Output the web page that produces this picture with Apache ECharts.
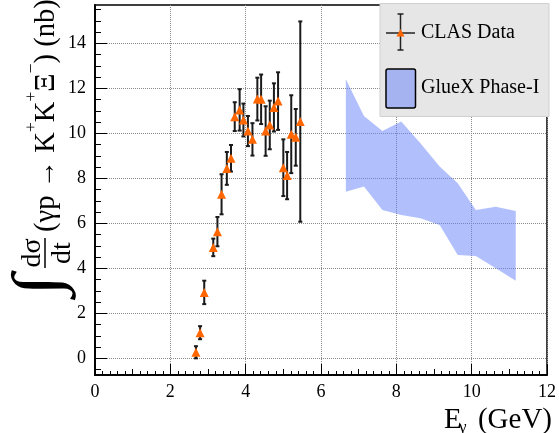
<!DOCTYPE html>
<html><head><meta charset="utf-8">
<script src="https://cdn.jsdelivr.net/npm/echarts@6/dist/echarts.min.js"></script>
<style>html,body{margin:0;padding:0;background:#fff}#c{width:559px;height:433px}</style>
</head><body><div id="c"></div>
<script>
// ---- data ----
const clasE   = [2.68, 2.79, 2.90, 3.14, 3.25, 3.36, 3.50, 3.61, 3.71, 3.84, 3.94, 4.06, 4.18, 4.31, 4.41, 4.53, 4.64, 4.75, 4.86, 5.00, 5.10, 5.21, 5.33, 5.45];
const clasVal = [0.27, 1.14, 2.93, 4.93, 5.63, 7.29, 8.44, 8.89, 10.74, 11.04, 10.59, 10.10, 9.73, 11.52, 11.51, 10.10, 10.37, 11.15, 11.43, 8.47, 8.12, 9.96, 9.82, 10.52];
const clasErr = [0.27, 0.29, 0.52, 0.39, 0.65, 0.89, 0.73, 0.59, 0.64, 0.92, 0.73, 0.67, 0.72, 0.95, 1.10, 1.10, 1.08, 1.07, 1.28, 1.26, 1.05, 1.73, 1.26, 4.45];
const bandE     = [6.66, 7.14, 7.63, 8.13, 8.64, 9.15, 9.63, 10.11, 10.64, 11.17];
const bandUpper = [12.40, 10.77, 10.10, 10.52, 9.56, 8.52, 7.78, 6.59, 6.74, 6.55];
const bandLower = [7.40, 7.63, 6.59, 6.37, 6.22, 5.92, 4.59, 4.55, 4.00, 3.45];
const xTickLabels = [0, 2, 4, 6, 8, 10, 12];
const yTickLabels = [0, 2, 4, 6, 8, 10, 12, 14];
const yMinorTicks = [-0.5, 0.5, 1, 1.5, 2.5, 3, 3.5, 4.5, 5, 5.5, 6.5, 7, 7.5, 8.5, 9, 9.5, 10.5, 11, 11.5, 12.5, 13, 13.5, 14.5, 15, 15.5];

const FAM = 'Liberation Serif';
const SERIF = '"Liberation Serif", serif';
const ctx = document.createElement('canvas').getContext('2d');
function tw(t, fs) { ctx.font = fs + 'px ' + SERIF; return ctx.measureText(t).width; }

const chart = echarts.init(document.getElementById('c'), null, {renderer: 'canvas'});

// ---- y title (rotated group) ----
const yt = [];
yt.push({type: 'text', x: 51, y: 40.5, scaleX: 1.2, scaleY: 1, style: {text: '∫', font: '66px ' + SERIF, fill: '#000', align: 'center', verticalAlign: 'middle'}});
yt.push({type: 'text', x: 83, y: 33, style: {text: 'dσ', font: '28px ' + SERIF, fill: '#000', align: 'center', verticalAlign: 'middle'}});
yt.push({type: 'line', shape: {x1: 68, y1: 45, x2: 98, y2: 45}, style: {stroke: '#000', lineWidth: 1.5}});
yt.push({type: 'text', x: 83, y: 63, style: {text: 'dt', font: '28px ' + SERIF, fill: '#000', align: 'center', verticalAlign: 'middle'}});
const pieces = [['(γp → K', 28.6, 46], ['+', 17.4, 31], ['K', 28.6, 46], ['+', 17.4, 31], ['Ξ', 28.6, 46], ['−', 17.4, 31], [') (nb)', 28.6, 46]];
let cx = 104;
pieces.forEach(p => {
  yt.push({type: 'text', x: cx, y: p[2], style: {text: p[0], font: p[1] + 'px ' + SERIF, fill: '#000', align: 'left', verticalAlign: 'middle'}});
  cx += tw(p[0], p[1]);
});

// ---- x title ----
const xtitle = [
  {type: 'text', x: 444, y: 420, style: {text: 'E', font: '29px ' + SERIF, fill: '#000', align: 'left', verticalAlign: 'middle'}},
  {type: 'text', x: 459, y: 428, style: {text: 'γ', font: '17px ' + SERIF, fill: '#000', align: 'left', verticalAlign: 'middle'}},
  {type: 'text', x: 552, y: 420, style: {text: '(GeV)', font: '29px ' + SERIF, fill: '#000', align: 'right', verticalAlign: 'middle'}}
];

// ---- legend ----
const legend = [
  {type: 'rect', z: 100, shape: {x: 380, y: 3.5, width: 169, height: 113}, style: {fill: '#e6e6e6', stroke: '#cfcfcf', lineWidth: 1}},
  {type: 'line', z: 101, shape: {x1: 386, y1: 33, x2: 415, y2: 33}, style: {stroke: '#222', lineWidth: 1.5}},
  {type: 'line', z: 101, shape: {x1: 400.5, y1: 14, x2: 400.5, y2: 50}, style: {stroke: '#222', lineWidth: 1.5}},
  {type: 'line', z: 101, shape: {x1: 397.5, y1: 14, x2: 403.5, y2: 14}, style: {stroke: '#222', lineWidth: 1.5}},
  {type: 'line', z: 101, shape: {x1: 397.5, y1: 50, x2: 403.5, y2: 50}, style: {stroke: '#222', lineWidth: 1.5}},
  {type: 'polygon', z: 102, shape: {points: [[396.5, 36.5], [404.5, 36.5], [400.5, 29]]}, style: {fill: '#ff6600'}},
  {type: 'text', z: 101, x: 421, y: 33, style: {text: 'CLAS Data', font: '20px ' + SERIF, fill: '#000', align: 'left', verticalAlign: 'middle'}},
  {type: 'rect', z: 101, shape: {x: 386, y: 69, width: 29.5, height: 39, r: 2}, style: {fill: 'rgba(100,130,250,0.5)', stroke: '#000', lineWidth: 1.5}},
  {type: 'text', z: 101, x: 421, y: 88, style: {text: 'GlueX Phase-I', font: '20px ' + SERIF, fill: '#000', align: 'left', verticalAlign: 'middle'}}
];

const gridLine = {show: true, lineStyle: {color: '#8a8a8a', width: 1, type: [1, 1]}};
const frameLine = {show: true, onZero: false, lineStyle: {color: '#000', width: 1.5}};
const labelStyle = {fontSize: 18, fontFamily: FAM, color: '#000'};

const option = {
  animation: false,
  backgroundColor: '#fff',
  grid: {left: 95, right: 9, top: 5, bottom: 58, show: true, borderColor: '#000', borderWidth: 1.5, backgroundColor: 'transparent'},
  xAxis: [
    {type: 'value', min: 0, max: 12, interval: 2, position: 'bottom',
     axisLine: frameLine,
     axisTick: {show: true, inside: true, length: 11, lineStyle: {color: '#000', width: 1}},
     minorTick: {show: true, splitNumber: 10, length: 4, lineStyle: {color: '#000', width: 1}},
     axisLabel: Object.assign({margin: 8, showMinLabel: true, showMaxLabel: true, customValues: xTickLabels}, labelStyle),
     splitLine: gridLine},
    {type: 'value', min: 0, max: 12, interval: 1, position: 'bottom',
     axisLine: frameLine,
     axisTick: {show: true, inside: true, length: 6, lineStyle: {color: '#000', width: 1}},
     axisLabel: {show: false}, splitLine: {show: false}}
  ],
  yAxis: [
    {type: 'value', min: -0.74, max: 15.7, position: 'left',
     axisLine: frameLine,
     axisTick: {show: true, inside: true, length: 12, customValues: yTickLabels, lineStyle: {color: '#000', width: 1}},
     axisLabel: Object.assign({margin: 9, customValues: yTickLabels}, labelStyle),
     splitLine: gridLine},
    {type: 'value', min: -0.74, max: 15.7, position: 'left',
     axisLine: frameLine,
     axisTick: {show: true, inside: true, length: 6, customValues: yMinorTicks, lineStyle: {color: '#000', width: 1}},
     axisLabel: {show: false}, splitLine: {show: false}}
  ],
  series: [
    {type: 'custom', name: 'GlueX Phase-I', xAxisIndex: 0, yAxisIndex: 0, z: 1, clip: true,
     data: bandE.map((e, i) => [e, bandLower[i], bandUpper[i]]),
     encode: {x: 0, y: [1, 2]},
     renderItem: function (params, api) {
       if (params.dataIndex !== 0) return null;
       const pts = [];
       for (let i = 0; i < bandE.length; i++) pts.push(api.coord([bandE[i], bandUpper[i]]));
       for (let i = bandE.length - 1; i >= 0; i--) pts.push(api.coord([bandE[i], bandLower[i]]));
       return {type: 'polygon', shape: {points: pts}, style: {fill: 'rgba(100,130,250,0.5)'}};
     }},
    {type: 'custom', name: 'CLAS err', xAxisIndex: 0, yAxisIndex: 0, z: 2, clip: true,
     data: clasE.map((e, i) => [e, clasVal[i], clasErr[i]]),
     encode: {x: 0, y: 1},
     renderItem: function (params, api) {
       const x = api.value(0), y = api.value(1), e = api.value(2);
       const t = api.coord([x, y + e]), b = api.coord([x, y - e]);
       const st = {stroke: '#1a1a1a', lineWidth: 2};
       return {type: 'group', children: [
         {type: 'line', shape: {x1: t[0], y1: t[1], x2: b[0], y2: b[1]}, style: st},
         {type: 'line', shape: {x1: t[0] - 2, y1: t[1], x2: t[0] + 2, y2: t[1]}, style: st},
         {type: 'line', shape: {x1: b[0] - 2, y1: b[1], x2: b[0] + 2, y2: b[1]}, style: st}
       ]};
     }},
    {type: 'scatter', name: 'CLAS Data', xAxisIndex: 0, yAxisIndex: 0, z: 3,
     data: clasE.map((e, i) => [e, clasVal[i]]),
     symbol: 'triangle', symbolSize: 9, itemStyle: {color: '#ff6600', opacity: 1}}
  ],
  graphic: [
    {type: 'group', x: 0, y: 336, rotation: Math.PI / 2, children: yt},
    ...xtitle,
    ...legend
  ]
};
chart.setOption(option);
</script>
</body></html>
